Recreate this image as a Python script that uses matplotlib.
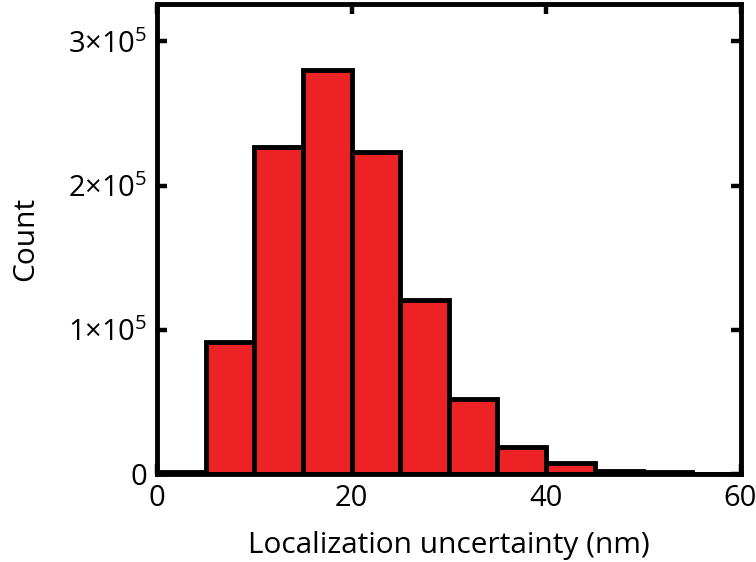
import matplotlib
matplotlib.use("Agg")
import matplotlib.pyplot as plt
import numpy as np

# Histogram of localization uncertainty, 5 nm bins
bin_edges = [0, 5, 10, 15, 20, 25, 30, 35, 40, 45, 50, 55, 60]
counts = [1500, 91800, 227000, 280000, 223000, 120600, 52000, 19000, 7600, 2300, 1200, 300]

x_ticks = [0, 20, 40, 60]
x_tick_labels = ["0", "20", "40", "60"]
y_ticks = [0, 100000, 200000, 300000]
y_tick_labels = ["0", r"$1{\times}10^{5}$", r"$2{\times}10^{5}$", r"$3{\times}10^{5}$"]

plt.rcParams["font.family"] = ["Open Sans", "DejaVu Sans"]
plt.rcParams["mathtext.fontset"] = "custom"
plt.rcParams["mathtext.rm"] = "Open Sans"
plt.rcParams["mathtext.it"] = "Open Sans"
plt.rcParams["mathtext.default"] = "rm"

fig = plt.figure(figsize=(7.56, 5.62), dpi=100)
ax = fig.add_axes([0.2077, 0.1566, 0.9795 - 0.2077, 0.9920 - 0.1566])

widths = np.diff(bin_edges)
ax.bar(bin_edges[:-1], counts, width=widths, align="edge",
       color="#ED2224", edgecolor="black", linewidth=3.5, zorder=2)

ax.set_xlim(0, 60)
ax.set_ylim(0, 325500)
ax.set_xticks(x_ticks)
ax.set_xticklabels(x_tick_labels)
ax.set_yticks(y_ticks)
ax.set_yticklabels(y_tick_labels)

for s in ax.spines.values():
    s.set_linewidth(3.5)
    s.set_zorder(3)

ax.tick_params(direction="in", length=7, width=3.2, labelsize=21,
               top=True, right=True, pad=7)

ax.set_xlabel("Localization uncertainty (nm)", fontsize=21.5, labelpad=13)
ax.set_ylabel("Count", fontsize=21.5, labelpad=20)

fig.savefig("out.png", dpi=100)
